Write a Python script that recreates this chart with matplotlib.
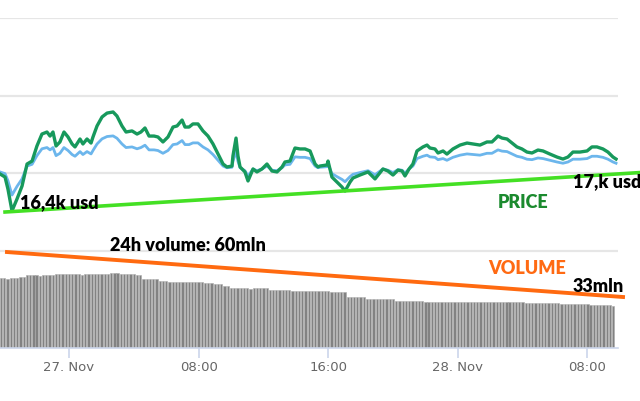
import numpy as np
import matplotlib
matplotlib.use("Agg")
import matplotlib.pyplot as plt

# time in hours from 27 Nov 00:00
price_t = [-4.26, -3.95, -3.77, -3.52, -3.21, -2.90, -2.59, -2.28, -1.98, -1.67,
           -1.36, -1.17, -0.99, -0.80, -0.56, -0.31, -0.06, 0.19, 0.37, 0.68,
           0.86, 1.11, 1.36, 1.48, 1.73, 2.04, 2.35, 2.72, 2.96, 3.27,
           3.52, 3.89, 4.20, 4.44, 4.69, 4.94, 5.25, 5.49, 5.80, 6.11,
           6.42, 6.67, 6.98, 7.16, 7.41, 7.65, 7.96, 8.27, 8.58, 8.89,
           9.20, 9.51, 9.75, 10.06, 10.12, 10.31, 10.43, 10.56, 10.86, 11.05,
           11.36, 11.60, 11.91, 12.22, 12.53, 12.84, 13.15, 13.33, 13.64, 13.95,
           14.26, 14.57, 14.88, 15.19, 15.37, 15.49, 15.93, 15.99, 16.23, 16.54,
           16.85, 17.04, 17.35, 17.53, 17.96, 18.46, 18.89, 19.38, 19.69, 20.00,
           20.31, 20.56, 20.74, 20.99, 21.23, 21.48, 21.85, 22.10, 22.28, 22.59,
           22.78, 23.09, 23.33, 23.70, 24.14, 24.57, 24.94, 25.37, 25.80, 26.11,
           26.30, 26.48, 26.73, 27.04, 27.35, 27.65, 27.96, 28.27, 28.58, 28.95,
           29.26, 29.69, 30.12, 30.49, 30.80, 31.11, 31.54, 31.98, 32.28, 32.59,
           32.96, 33.27, 33.58, 33.77]

price_high = [16496, 16476, 16399, 16258, 16335, 16418, 16560, 16579, 16676, 16753,
              16766, 16740, 16766, 16676, 16702, 16766, 16734, 16689, 16670, 16721,
              16689, 16721, 16695, 16734, 16805, 16863, 16888, 16895, 16869, 16805,
              16766, 16773, 16753, 16766, 16792, 16740, 16740, 16734, 16702, 16734,
              16798, 16805, 16843, 16798, 16798, 16818, 16818, 16773, 16740, 16689,
              16624, 16560, 16541, 16547, 16612, 16727, 16612, 16541, 16509, 16451,
              16528, 16509, 16528, 16560, 16515, 16509, 16541, 16573, 16579, 16663,
              16657, 16657, 16644, 16560, 16541, 16547, 16554, 16579, 16476, 16444,
              16412, 16386, 16444, 16470, 16489, 16509, 16464, 16528, 16515, 16489,
              16521, 16515, 16483, 16528, 16560, 16644, 16670, 16682, 16663, 16657,
              16631, 16644, 16624, 16657, 16682, 16695, 16689, 16682, 16702, 16702,
              16721, 16740, 16727, 16721, 16695, 16670, 16657, 16637, 16631, 16650,
              16644, 16624, 16605, 16592, 16605, 16637, 16637, 16644, 16670, 16670,
              16657, 16637, 16605, 16592]

price_low = [16509, 16498, 16453, 16360, 16416, 16464, 16547, 16558, 16614, 16658,
             16666, 16651, 16666, 16614, 16629, 16666, 16647, 16621, 16610, 16640,
             16621, 16640, 16625, 16647, 16689, 16722, 16737, 16741, 16726, 16689,
             16666, 16670, 16658, 16666, 16681, 16651, 16651, 16647, 16629, 16647,
             16685, 16689, 16711, 16685, 16685, 16696, 16696, 16670, 16651, 16621,
             16584, 16547, 16536, 16539, 16577, 16643, 16577, 16536, 16517, 16483,
             16528, 16517, 16528, 16547, 16520, 16517, 16536, 16554, 16558, 16606,
             16603, 16603, 16595, 16547, 16536, 16539, 16543, 16558, 16498, 16479,
             16461, 16446, 16479, 16494, 16505, 16517, 16491, 16528, 16520, 16505,
             16524, 16520, 16502, 16528, 16547, 16595, 16610, 16617, 16606, 16603,
             16588, 16595, 16584, 16603, 16617, 16625, 16621, 16617, 16629, 16629,
             16640, 16651, 16643, 16640, 16625, 16610, 16603, 16591, 16588, 16599,
             16595, 16584, 16573, 16565, 16573, 16591, 16591, 16595, 16610, 16610,
             16603, 16591, 16573, 16565]

# 12-minute volume bars, mln usd
vol_start = -4.2
vol_step = 0.2
volume = [0.476, 0.476, 0.470, 0.476, 0.476, 0.476, 0.483, 0.483, 0.496, 0.496,
          0.496, 0.496, 0.490, 0.496, 0.496, 0.496, 0.496, 0.503, 0.503, 0.503,
          0.503, 0.503, 0.503, 0.503, 0.503, 0.496, 0.503, 0.503, 0.503, 0.503,
          0.503, 0.503, 0.503, 0.503, 0.510, 0.510, 0.510, 0.503, 0.503, 0.503,
          0.503, 0.503, 0.496, 0.496, 0.469, 0.469, 0.469, 0.469, 0.469, 0.456,
          0.456, 0.456, 0.449, 0.449, 0.449, 0.449, 0.449, 0.449, 0.449, 0.449,
          0.449, 0.449, 0.449, 0.442, 0.442, 0.442, 0.435, 0.435, 0.435, 0.422,
          0.422, 0.408, 0.408, 0.408, 0.408, 0.408, 0.408, 0.401, 0.408, 0.408,
          0.408, 0.408, 0.408, 0.394, 0.394, 0.394, 0.394, 0.394, 0.394, 0.394,
          0.388, 0.388, 0.388, 0.388, 0.388, 0.388, 0.388, 0.388, 0.388, 0.388,
          0.388, 0.388, 0.381, 0.381, 0.381, 0.381, 0.381, 0.347, 0.347, 0.347,
          0.347, 0.347, 0.347, 0.333, 0.333, 0.333, 0.333, 0.333, 0.333, 0.333,
          0.333, 0.333, 0.320, 0.320, 0.320, 0.320, 0.320, 0.320, 0.320, 0.320,
          0.320, 0.313, 0.313, 0.313, 0.313, 0.313, 0.313, 0.313, 0.313, 0.313,
          0.313, 0.313, 0.313, 0.313, 0.313, 0.313, 0.313, 0.313, 0.313, 0.313,
          0.313, 0.313, 0.313, 0.313, 0.313, 0.313, 0.313, 0.313, 0.313, 0.313,
          0.313, 0.313, 0.306, 0.306, 0.306, 0.306, 0.306, 0.306, 0.306, 0.306,
          0.306, 0.306, 0.306, 0.299, 0.299, 0.299, 0.299, 0.299, 0.299, 0.299,
          0.299, 0.299, 0.292, 0.292, 0.292, 0.292, 0.292, 0.292, 0.292, 0.286]

tick_pos = [0, 8, 16, 24, 32]
tick_labels = ["27. Nov", "08:00", "16:00", "28. Nov", "08:00"]

# hand drawn trend lines (time, value)
price_trend_t = [-3.95, 35.25]
price_trend_v = [16251, 16505]
vol_trend_t = [-3.83, 34.2]
vol_trend_v = [0.653, 0.347]

W, H = 640, 402
fig = plt.figure(figsize=(W / 100, H / 100), dpi=100)
x0, x1 = -4.26, 33.89
ax_w = 618 / W

# price panel: pixel rows 19..252
ax1 = fig.add_axes([0, 1 - 252 / H, ax_w, (252 - 19) / H])
# volume panel: pixel rows 252..349
ax2 = fig.add_axes([0, 1 - 349 / H, ax_w, (349 - 252) / H])

for ax in (ax1, ax2):
    ax.set_xlim(x0, x1)
    for s in ax.spines.values():
        s.set_visible(False)
    ax.set_facecolor("none")

ax1.set_ylim(16000, 17500)
ax1.set_yticks([16000, 16500, 17000, 17500])
ax1.yaxis.grid(True, color="#e6e6e6", linewidth=1.6)
ax1.set_axisbelow(True)
ax1.tick_params(left=False, labelleft=False, bottom=False, labelbottom=False)

ax1.plot(price_t, price_low, color="#6cb6ec", linewidth=2.0, solid_joinstyle="round")
ax1.plot(price_t, price_high, color="#17995c", linewidth=2.4, solid_joinstyle="round")
ax1.plot(price_trend_t, price_trend_v, color="#44e024", linewidth=2.6, clip_on=False)

ax2.set_ylim(0, 0.66)
ax2.set_yticks([0.66])
ax2.yaxis.grid(True, color="#e6e6e6", linewidth=1.6)
ax2.set_axisbelow(True)
vol_t = vol_start + vol_step * np.arange(len(volume))
ax2.bar(vol_t, volume, width=0.14, color="#828282", edgecolor="#aaaaaa", linewidth=0.4)
ax2.spines["bottom"].set_visible(True)
ax2.spines["bottom"].set_color("#ccd6eb")
ax2.spines["bottom"].set_linewidth(1.2)
ax2.tick_params(left=False, labelleft=False)
ax2.set_xticks(tick_pos)
ax2.set_xticklabels(tick_labels)
ax2.tick_params(axis="x", colors="#ccd6eb", length=7.5, width=1.2, pad=1.5,
                labelsize=9.5, labelcolor="#666666")
ax2.plot(vol_trend_t, vol_trend_v, color="#ff6a10", linewidth=2.8, clip_on=False)

bold = dict(fontfamily="Lato", fontweight="heavy", fontsize=13)
fig.text(20 / W, 1 - 203 / H, "16,4k usd", color="black", va="center", ha="left", **bold)
fig.text(573 / W, 1 - 182 / H, "17,k usd", color="black", va="center", ha="left", **bold)
fig.text(498 / W, 1 - 203 / H, "PRICE", color="#1b8a2e", va="center", ha="left", **bold)
fig.text(110 / W, 1 - 246 / H, "24h volume: 60mln", color="black", va="center", ha="left", **bold)
fig.text(488 / W, 1 - 269 / H, "VOLUME", color="#ff6a13", va="center", ha="left", **bold)
fig.text(573 / W, 1 - 287 / H, "33mln", color="black", va="center", ha="left", **bold)

fig.savefig("out.png", dpi=100, facecolor="white")
